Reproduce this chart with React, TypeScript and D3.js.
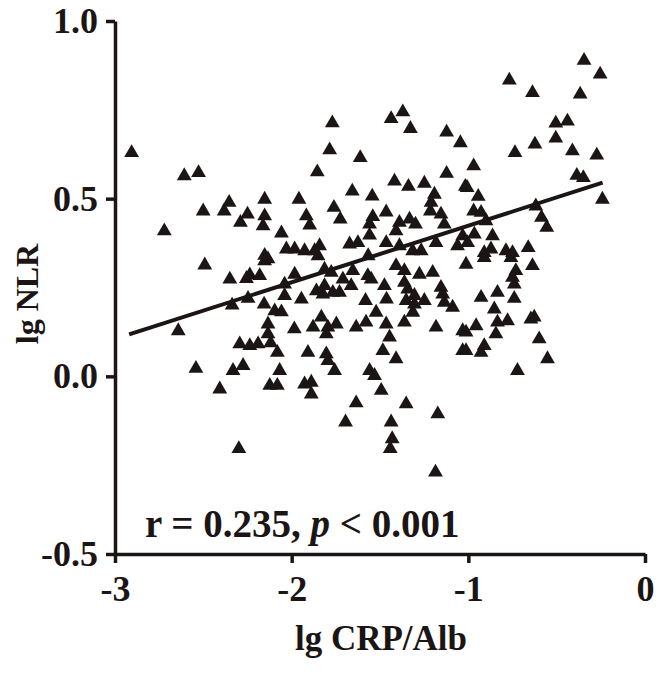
import React, { useEffect, useRef } from "react";
import * as d3 from "d3";

// lg CRP/Alb (x) and lg NLR (y)
const lgCrpAlb = [
	-2.906, -2.608, -2.527, -2.501, -2.354, -2.382, -2.25, -2.29, -2.153, -2.153, -2.162, -2.058, -2.721, -2.03, -2.153,
	-1.77, -1.437, -1.371, -1.328, -1.123, -1.045, -1.785, -1.612, -1.855, -1.418, -1.339, -1.249, -1.123, -1.017, -1.657,
	-1.544, -1.959, -1.192, -1.211, -1.215, -1.761, -1.917, -1.898, -1.725, -1.465, -1.541, -1.559, -1.333, -1.299, -1.39,
	-1.409, -1.155, -1.136, -1.032, -1.559, -1.465, -1.672, -1.625, -1.842, -1.983, -1.927, -1.87, -1.39, -1.315, -1.267,
	-1.183, -1.061, -0.345, -0.254, -0.768, -0.637, -0.367, -0.505, -0.439, -0.505, -0.623, -0.736, -0.411, -0.273, -0.386,
	-0.349, -0.97, -1.007, -0.944, -0.97, -0.928, -0.9, -0.618, -0.586, -0.556, -0.241, -0.966, -0.863, -1.004, -0.872,
	-0.787, -0.75, -0.661, -0.91, -2.492, -2.35, -2.256, -2.237, -2.181, -2.153, -2.134, -2.04, -2.04, -2.247, -2.337,
	-2.156, -2.096, -2.058, -2.642, -2.134, -2.134, -1.985, -2.294, -2.237, -2.19, -2.119, -2.081, -2.542, -2.332, -2.275,
	-2.068, -2.407, -2.124, -2.081, -2.299, -1.983, -1.945, -1.814, -1.776, -1.86, -1.814, -1.823, -1.767, -1.729, -1.71,
	-1.654, -1.663, -1.569, -1.55, -1.582, -1.475, -1.463, -1.409, -1.362, -1.362, -1.343, -1.277, -1.202, -1.352, -1.305,
	-1.305, -1.249, -1.314, -1.155, -1.145, -1.136, -1.089, -1.013, -1.832, -1.795, -1.747, -1.804, -1.879, -1.635, -1.579,
	-1.522, -1.465, -1.446, -1.362, -1.183, -1.032, -1.908, -1.804, -1.795, -1.757, -1.484, -1.409, -1.559, -1.531, -1.032,
	-1.927, -1.889, -1.889, -1.493, -1.635, -1.352, -1.173, -1.695, -1.437, -1.431, -1.442, -1.186, -0.91, -0.759, -0.637,
	-0.731, -0.75, -0.74, -0.928, -0.835, -0.74, -0.853, -0.835, -0.778, -0.646, -0.627, -0.956, -1.013, -0.844, -0.599,
	-1.013, -0.91, -0.928, -0.552, -0.722, -1.567, -1.851,
];
const lgNlr = [
	0.629, 0.564, 0.573, 0.465, 0.489, 0.465, 0.456, 0.433, 0.498, 0.451, 0.423, 0.403, 0.409, 0.358, 0.34,
	0.713, 0.725, 0.744, 0.697, 0.687, 0.657, 0.637, 0.615, 0.575, 0.549, 0.534, 0.543, 0.571, 0.534, 0.521,
	0.507, 0.498, 0.512, 0.489, 0.465, 0.475, 0.451, 0.425, 0.442, 0.462, 0.449, 0.428, 0.442, 0.428, 0.433,
	0.409, 0.456, 0.428, 0.395, 0.397, 0.376, 0.372, 0.376, 0.367, 0.358, 0.353, 0.353, 0.367, 0.353, 0.353,
	0.376, 0.367, 0.889, 0.85, 0.833, 0.798, 0.794, 0.712, 0.718, 0.67, 0.653, 0.629, 0.634, 0.622, 0.565,
	0.559, 0.592, 0.531, 0.506, 0.465, 0.461, 0.437, 0.479, 0.447, 0.419, 0.498, 0.4, 0.395, 0.376, 0.358,
	0.353, 0.348, 0.362, 0.348, 0.313, 0.273, 0.275, 0.285, 0.283, 0.325, 0.33, 0.259, 0.227, 0.219, 0.2,
	0.203, 0.184, 0.181, 0.128, 0.147, 0.119, 0.133, 0.091, 0.086, 0.091, 0.094, 0.067, 0.022, 0.016, 0.03,
	0.016, -0.036, -0.026, -0.026, -0.204, 0.287, 0.217, 0.301, 0.292, 0.24, 0.255, 0.231, 0.236, 0.236, 0.273,
	0.297, 0.255, 0.283, 0.273, 0.213, 0.255, 0.217, 0.311, 0.297, 0.264, 0.245, 0.287, 0.292, 0.213, 0.227,
	0.203, 0.213, 0.18, 0.25, 0.231, 0.208, 0.194, 0.315, 0.166, 0.138, 0.147, 0.119, 0.138, 0.138, 0.152,
	0.18, 0.147, 0.11, 0.152, 0.138, 0.128, 0.067, 0.063, 0.044, 0.016, 0.072, 0.049, 0.016, 0.002, 0.072,
	-0.022, -0.017, -0.05, -0.04, -0.075, -0.078, -0.106, -0.129, -0.129, -0.176, -0.204, -0.27, 0.334, 0.334, 0.311,
	0.297, 0.278, 0.259, 0.222, 0.236, 0.219, 0.189, 0.152, 0.156, 0.161, 0.166, 0.142, 0.124, 0.119, 0.105,
	0.072, 0.086, 0.067, 0.049, 0.016, 0.339, 0.339,
];

// fitted regression line end points
const fitX = [-2.92, -0.24];
const fitY = [0.118, 0.545];

const xTicks = [-3, -2, -1, 0];
const yTicks = [-0.5, 0, 0.5, 1.0];

const ink = "#1c1515";
const font = "'Liberation Serif', 'Times New Roman', serif";

const App = () => {
	const svgRef = useRef<SVGSVGElement>(null);

	useEffect(() => {
		const svg = d3.select(svgRef.current);
		svg.selectAll("*").remove();

		const x = d3.scaleLinear().domain([-3, 0]).range([115, 645]);
		const y = d3.scaleLinear().domain([-0.5, 1.0]).range([554, 21]);

		// y axis
		const gy = svg
			.append("g")
			.attr("transform", "translate(115,0)")
			.call(
				d3
					.axisLeft(y)
					.tickValues(yTicks)
					.tickSize(9)
					.tickSizeOuter(0)
					.tickPadding(8)
					.tickFormat((d) => (+d).toFixed(1))
			);

		// x axis
		const gx = svg
			.append("g")
			.attr("transform", "translate(0,554)")
			.call(
				d3
					.axisBottom(x)
					.tickValues(xTicks)
					.tickSize(9)
					.tickSizeOuter(0)
					.tickPadding(12)
					.tickFormat((d) => String(d))
			);

		[gy, gx].forEach((g) => {
			g.select(".domain").attr("stroke", ink).attr("stroke-width", 3.5);
			g.selectAll(".tick line").attr("stroke", ink).attr("stroke-width", 3.5);
			g.selectAll(".tick text")
				.attr("fill", ink)
				.style("font-family", font)
				.style("font-weight", "bold")
				.style("font-size", "36px");
		});

		// points
		const tri = d3.symbol().type(d3.symbolTriangle).size(95);
		svg
			.append("g")
			.selectAll("path")
			.data(d3.range(lgCrpAlb.length))
			.enter()
			.append("path")
			.attr("d", tri)
			.attr("transform", (i) => `translate(${x(lgCrpAlb[i])},${y(lgNlr[i])})`)
			.attr("fill", ink);

		// regression line
		svg
			.append("path")
			.datum(d3.range(fitX.length))
			.attr(
				"d",
				d3
					.line<number>()
					.x((i) => x(fitX[i]))
					.y((i) => y(fitY[i]))
			)
			.attr("stroke", ink)
			.attr("stroke-width", 4)
			.attr("fill", "none");

		// annotation
		const note = svg
			.append("text")
			.attr("x", 145)
			.attr("y", 537)
			.attr("fill", ink)
			.style("font-family", font)
			.style("font-weight", "bold")
			.style("font-size", "39px");
		note.append("tspan").text("r = 0.235, ");
		note.append("tspan").style("font-style", "italic").text("p");
		note.append("tspan").text(" < 0.001");

		// axis titles
		svg
			.append("text")
			.attr("x", 381)
			.attr("y", 650)
			.attr("text-anchor", "middle")
			.attr("fill", ink)
			.style("font-family", font)
			.style("font-weight", "bold")
			.style("font-size", "35px")
			.text("lg CRP/Alb");

		svg
			.append("text")
			.attr("transform", "translate(38,294) rotate(-90)")
			.attr("text-anchor", "middle")
			.attr("fill", ink)
			.style("font-family", font)
			.style("font-weight", "bold")
			.style("font-size", "32px")
			.text("lg NLR");
	}, []);

	return (
		<svg
			ref={svgRef}
			width={664}
			height={675}
			style={{ position: "absolute", left: 0, top: 0, background: "#fff" }}
		></svg>
	);
};

export default App;
